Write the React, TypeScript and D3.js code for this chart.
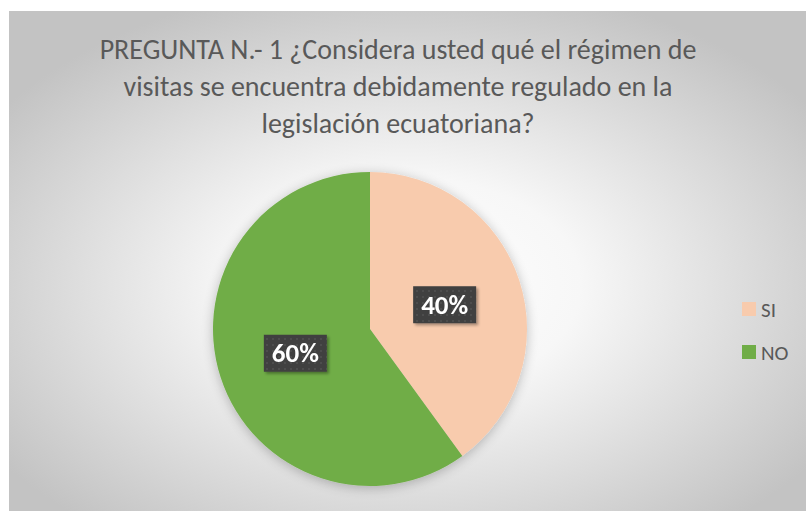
import React from "react";
import * as d3 from "d3";

const categories = ["SI", "NO"];
const values = [40, 60];
const colors = ["#F8CBAD", "#70AD47"];
const titleLines = [
  "PREGUNTA N.- 1 ¿Considera usted qué el régimen de",
  "visitas se encuentra debidamente regulado en la",
  "legislación ecuatoriana?",
];

const W = 806;
const H = 511;
const cx = 370;
const cy = 329;
const R = 157;

export default function App() {
  const pie = d3.pie<number>().sort(null).value((d) => d)(values);
  const arc = d3.arc<d3.PieArcDatum<number>>().innerRadius(0).outerRadius(R);
  const labelArc = d3.arc<d3.PieArcDatum<number>>().innerRadius(R * 0.5).outerRadius(R * 0.5);
  const total = d3.sum(values);
  const font = "Calibri, Carlito, Lato, 'Open Sans', sans-serif";
  return (
    <svg width={W} height={H} style={{ position: "absolute", left: 0, top: 0 }}>
      <defs>
        <radialGradient id="bg" cx="0.5" cy="0.55" r="0.62" fx="0.5" fy="0.55">
          <stop offset="0" stopColor="#ffffff" />
          <stop offset="0.35" stopColor="#f7f7f7" />
          <stop offset="1" stopColor="#c3c3c3" />
        </radialGradient>
        <filter id="shadow" x="-20%" y="-20%" width="140%" height="140%">
          <feGaussianBlur in="SourceAlpha" stdDeviation="6" />
          <feOffset dx="0" dy="2" result="b" />
          <feComponentTransfer>
            <feFuncA type="linear" slope="0.25" />
          </feComponentTransfer>
          <feMerge>
            <feMergeNode />
            <feMergeNode in="SourceGraphic" />
          </feMerge>
        </filter>
        <pattern id="dots" width="6" height="6" patternUnits="userSpaceOnUse">
          <rect width="6" height="6" fill="#404040" />
          <rect x="2" y="2" width="2" height="2" fill="#4d4d4d" />
        </pattern>
        <filter id="boxshadow" x="-20%" y="-20%" width="150%" height="150%">
          <feGaussianBlur in="SourceAlpha" stdDeviation="1.5" />
          <feOffset dx="2" dy="2" />
          <feComponentTransfer>
            <feFuncA type="linear" slope="0.35" />
          </feComponentTransfer>
          <feMerge>
            <feMergeNode />
            <feMergeNode in="SourceGraphic" />
          </feMerge>
        </filter>
      </defs>
      <rect x={0} y={0} width={W} height={H} fill="#ffffff" />
      <rect x={9} y={11} width={W - 9} height={H - 11} fill="url(#bg)" />
      {titleLines.map((t, i) => (
        <text
          key={i}
          x={398}
          y={59 + i * 37}
          textAnchor="middle"
          fontFamily={font}
          fontSize={28}
          fill="#595959"
        >
          {t}
        </text>
      ))}
      <g filter="url(#shadow)">
        {pie.map((p, i) => (
          <path key={i} d={arc(p) || ""} transform={`translate(${cx},${cy})`} fill={colors[i]} />
        ))}
      </g>
      {pie.map((p, i) => {
        const [lx, ly] = labelArc.centroid(p);
        const x = cx + lx;
        const y = cy + ly;
        const bw = 63;
        const bh = 37;
        return (
          <g key={"l" + i} filter="url(#boxshadow)">
            <rect x={x - bw / 2} y={y - bh / 2} width={bw} height={bh} fill="url(#dots)" />
            <text
              x={x}
              y={y + 9}
              textAnchor="middle"
              fontFamily={font}
              fontWeight="bold"
              fontSize={27}
              fill="#ffffff"
            >
              {Math.round((values[i] / total) * 100)}%
            </text>
          </g>
        );
      })}
      {categories.map((c, i) => (
        <g key={"lg" + i}>
          <rect x={742} y={302 + i * 43} width={14} height={14} fill={colors[i]} />
          <text x={761} y={317 + i * 43} fontFamily={font} fontSize={21} fill="#595959">
            {c}
          </text>
        </g>
      ))}
    </svg>
  );
}
